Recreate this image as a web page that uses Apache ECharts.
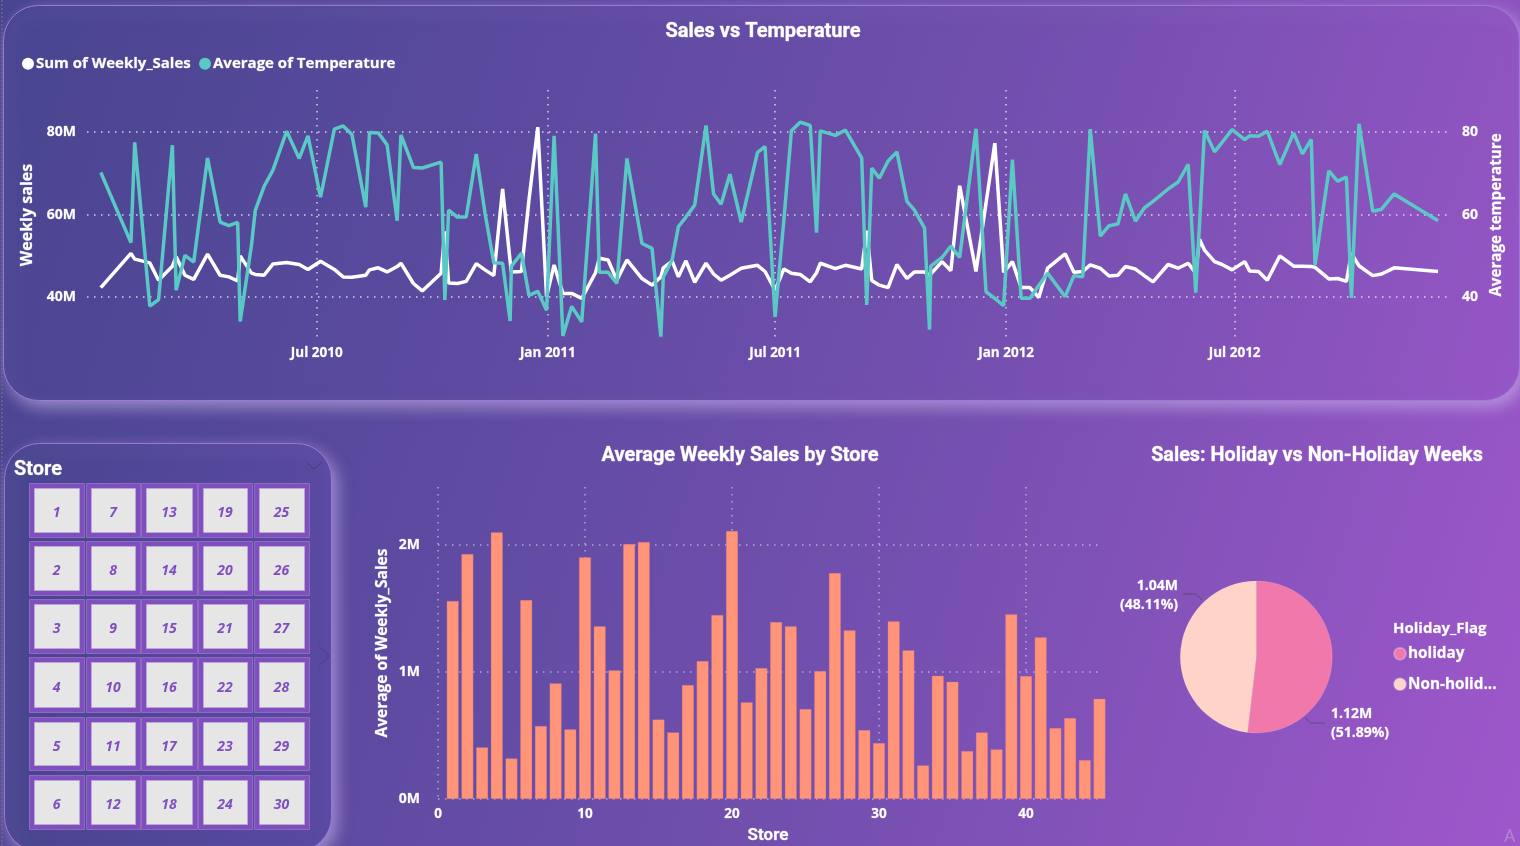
<!DOCTYPE html>
<html><head><meta charset="utf-8">
<style>html,body{margin:0;padding:0;width:1520px;height:846px;overflow:hidden;background:linear-gradient(108deg,#484590 0%,#5b4a9f 30%,#7550b0 62%,#9f57cb 100%)}#c{width:1520px;height:846px}</style>
<script src="https://cdn.jsdelivr.net/npm/echarts@6/dist/echarts.min.js"></script>
</head><body><div id="c"></div>
<script>
// Days since 2010-01-01 of each plotted week
const dayOffsets=[9,33,36,48,55,66,69,76,83,94,104,111,118,120,129,132,139,146,157,167,174,184,195,202,209,220,223,230,237,245,248,258,265,280,283,286,293,300,308,315,322,329,335,336,344,350,357,364,370,377,384,392,403,406,413,420,428,440,448,455,457,464,469,475,482,491,497,503,510,519,532,538,546,553,559,566,574,579,582,594,602,615,619,623,629,636,643,651,657,665,669,670,679,686,693,706,714,721,728,735,742,749,756,763,777,784,791,797,805,812,819,825,833,840,847,859,867,875,881,884,888,896,902,910,920,924,931,938,948,959,966,973,976,987,994,1001,1005,1011,1022,1029,1039,1074];
const weeklySales=[42.3,50.6,49.2,48.3,44.1,47.5,49.8,45.3,44.3,50.4,45.3,44.9,43.9,50,45.8,45.5,45.3,48,48.4,47.9,46.7,48.7,46.7,44.9,44.8,45.3,46.6,47.1,46.1,47.4,48.2,43.3,41.5,45.8,55.9,43.4,43.3,43.8,48.1,46.6,45.2,66.2,48.6,46.1,46.2,63.6,81.2,40.1,47.8,40.9,40.9,39.7,45.9,49.4,49,44.1,49,44.5,42.9,44.9,47.1,48.7,44.9,48.8,43.6,48.2,45.6,44.1,45.3,47,47.7,46.2,41.7,46.8,45.8,45.5,43.7,45.9,48.2,46.9,47.7,46.8,56.1,44,42.9,42.3,47.9,44.5,46.1,46.1,45.3,44.9,48.6,46.4,67,46.2,62.8,77.3,46,48.6,42.3,42.3,39.9,47,50.5,46,46.2,47.8,47,45.1,45.3,47.4,46.8,45.2,43.7,47.9,47,48.2,45.8,54,51.4,48.6,47.9,46.6,48.6,46.3,46.2,44.1,50,47.5,47.5,47.4,47.2,44.4,44.5,43.8,50.6,47.6,45.2,45.6,47.1,46.2];
const avgTemperature=[70.2,53.2,77.5,37.8,39.4,76.8,41.7,50.1,48.5,73.7,58.2,57.3,58.1,34.1,52.6,61,66.8,70.7,80.2,73.6,79.1,64.2,80.7,81.5,79.4,61.8,79.9,79.8,76.9,58.5,79.3,71.4,71.3,72.7,39.3,61.1,59.4,59.4,74.7,60.3,48.3,48.2,34.2,47.5,50.6,40.4,41.4,36.8,79.1,30.6,37.7,34,79.6,46,46,43.3,73.6,53,51.8,30.4,44.9,49,57.1,59.4,62.3,81.6,65,62.5,69.8,58.2,75.1,76.5,35.2,58.7,80.3,82.4,81.6,55.6,80.3,79.2,80.5,73.7,38.1,71.3,68.8,73,75.2,63.2,61.1,56.7,32.1,47.5,49.6,52.4,49.6,80.8,41.3,39.7,37.9,73.3,39.7,39.7,42.8,45.8,40.1,45.2,44.9,80.7,54.8,57.3,57.7,65,58.4,61.6,63.2,66.2,67.9,72.2,41.1,57.5,80.4,75.2,77.5,80.6,78.2,79.1,79,80.2,72.1,79.8,74.7,78.2,47.8,70.6,68.1,69.1,39.8,82,60.8,61.3,65,58.5];
const timeTicks=[181,365,546,730,912];
const timeTickLabels=['Jul 2010','Jan 2011','Jul 2011','Jan 2012','Jul 2012'];
const salesTicks=[40,60,80];
const tempTicks=[40,60,80];

const stores=[1,2,3,4,5,6,7,8,9,10,11,12,13,14,15,16,17,18,19,20,21,22,23,24,25,26,27,28,29,30,31,32,33,34,35,36,37,38,39,40,41,42,43,44,45];
const storeSales=[1.56,1.93,0.407,2.10,0.32,1.567,0.575,0.911,0.549,1.903,1.36,1.013,2.008,2.024,0.627,0.525,0.898,1.087,1.449,2.11,0.761,1.031,1.394,1.36,0.709,1.008,1.78,1.328,0.543,0.441,1.399,1.171,0.265,0.971,0.924,0.378,0.525,0.391,1.454,0.968,1.273,0.559,0.638,0.307,0.79];
const storeTicks=[0,10,20,30,40];
const storeSalesTicks=[0,1,2];

const pieNames=['holiday','Non-holiday'];
const pieValues=[1.12,1.04];
const piePercents=['51.89%','48.11%'];
const sliceColors=['#F178AB','#FFD3C8'];

const sliceStores=[1,7,13,19,25,2,8,14,20,26,3,9,15,21,27,4,10,16,22,28,5,11,17,23,29,6,12,18,24,30];

const F='"Open Sans","Noto Sans",sans-serif';
const T='Roboto,"Noto Sans",sans-serif';
const W='#fff';
const bold={textBorderColor:'rgba(255,255,255,0.45)',textBorderWidth:0.5};
const dot=(o)=>({show:true,lineStyle:{color:'rgba(255,255,255,'+o+')',width:1.5,type:[1.5,5.5]}});
const pageFill=()=>new echarts.graphic.LinearGradient(-51.7,159.2,1571.7,686.8,[{offset:0,color:'#484590'},{offset:.3,color:'#5b4a9f'},{offset:.62,color:'#7550b0'},{offset:1,color:'#9f57cb'}],true);
const glow={shadowColor:'rgba(205,185,235,0.6)',shadowBlur:16,shadowOffsetX:5,shadowOffsetY:6};

// slicer tiles
const tileX=[29,86,141,198,254],tileW=[55,54,56,54,55];
const tileY=[483,541,599,657,717,775],tileH=[54,54,54,55,53,54];
const gfx=[];
gfx.push({type:'rect',z:0,shape:{x:3.5,y:5.5,width:1516,height:395,r:35},style:Object.assign({fill:pageFill(),stroke:'#9E78D8',lineWidth:1},glow)});
gfx.push({type:'rect',z:0,shape:{x:4.5,y:443.5,width:327,height:408,r:35},style:Object.assign({fill:new echarts.graphic.LinearGradient(0,0,1,0,[{offset:0,color:'#49458f'},{offset:1,color:'#5a49a2'}]),stroke:'#9E72DC',lineWidth:1},glow)});
gfx.push({type:'line',z:1,shape:{x1:2,y1:0,x2:2,y2:846},style:{stroke:'rgba(110,110,125,0.9)',lineWidth:1.5,lineDash:[2,2]}});
gfx.push({type:'text',z:5,style:{x:14,y:470,text:'Store',fill:W,font:'bold 20px '+T,textVerticalAlign:'middle',stroke:'rgba(255,255,255,0.45)',lineWidth:0.5}});
gfx.push({type:'polyline',z:5,shape:{points:[[306,462],[314,469],[322,462]]},style:{stroke:'rgba(60,60,90,0.7)',fill:null,lineWidth:1}});
gfx.push({type:'polyline',z:5,shape:{points:[[319.5,647],[329,656],[319.5,665]]},style:{stroke:'rgba(60,60,90,0.7)',fill:null,lineWidth:1}});
sliceStores.forEach((s,i)=>{
  const c=i%5,r=Math.floor(i/5),x=tileX[c],y=tileY[r],w=tileW[c],h=tileH[r];
  gfx.push({type:'rect',z:5,shape:{x:x+.5,y:y+.5,width:w,height:h},style:{fill:'#804FBF',stroke:'#8E6BC0',lineWidth:1}});
  gfx.push({type:'rect',z:6,shape:{x:x+5.5,y:y+5.5,width:w-10,height:h-10},style:{fill:'#E6E6E6',stroke:'#B9A8D0',lineWidth:1}});
  gfx.push({type:'text',z:7,style:{x:x+w/2,y:y+h/2+3.5,text:String(s),fill:'#804FBF',font:'italic bold 14px '+F,textAlign:'center',textVerticalAlign:'middle'}});
});
gfx.push({type:'text',z:5,style:{x:1504,y:837,text:'A',fill:'rgba(200,190,215,0.45)',font:'18px '+F,textVerticalAlign:'middle'}});
gfx.push({type:'text',z:5,style:{x:1393,y:629,text:'Holiday_Flag',fill:W,font:'bold 15px '+F,textVerticalAlign:'middle',stroke:'rgba(255,255,255,0.45)',lineWidth:0.5}});

const titleStyle=Object.assign({color:W,fontFamily:T,fontWeight:'bold',fontSize:20},{textBorderColor:'rgba(255,255,255,0.6)',textBorderWidth:0.6});
const option={
  animation:false,
  graphic:{elements:gfx},
  title:[
    {text:'Sales vs Temperature',left:758,top:17,textAlign:'center',textStyle:titleStyle},
    {text:'Average Weekly Sales by Store',left:735,top:441,textAlign:'center',textStyle:titleStyle},
    {text:'Sales: Holiday vs Non-Holiday Weeks',left:1312,top:441,textAlign:'center',textStyle:Object.assign({},titleStyle,{fontSize:19.8})}
  ],
  legend:[
    {left:17,top:51,padding:5,itemGap:8,itemWidth:12,itemHeight:12,icon:'circle',selectedMode:false,
     data:['Sum of Weekly_Sales','Average of Temperature'],textStyle:Object.assign({color:W,fontFamily:F,fontWeight:'bold',fontSize:15,padding:[0,0,0,-3]},bold)},
    {left:1388,top:641,orient:'vertical',itemGap:15,itemWidth:12,itemHeight:12,icon:'circle',selectedMode:false,
     data:pieNames,formatter:n=>n.length>9?n.slice(0,9)+'...':n,textStyle:Object.assign({color:W,fontFamily:F,fontWeight:'bold',fontSize:15.3,padding:[0,0,0,-3]},bold)}
  ],
  grid:[
    {left:87,width:1364,top:90,height:250},
    {left:438,width:664,top:487,height:312}
  ],
  xAxis:[
    {type:'value',gridIndex:0,min:-2,max:1084.3,
     axisLine:{show:false},axisTick:{show:false,customValues:timeTicks},
     splitLine:dot(0.75),
     axisLabel:Object.assign({customValues:timeTicks,color:W,fontFamily:F,fontWeight:'bold',fontSize:13.5,margin:6,
       formatter:v=>timeTickLabels[timeTicks.indexOf(+v)]||''},bold)},
    {type:'value',gridIndex:1,min:0,max:45.17,
     name:'Store',nameLocation:'middle',nameGap:28,nameTextStyle:Object.assign({color:W,fontFamily:T,fontWeight:'bold',fontSize:17,padding:[0,4,0,0]},bold),
     axisLine:{show:false},axisTick:{show:false,customValues:storeTicks},
     splitLine:dot(0.5),
     axisLabel:Object.assign({customValues:storeTicks,color:W,fontFamily:F,fontWeight:'bold',fontSize:13.5,margin:8},bold)}
  ],
  yAxis:[
    {type:'value',gridIndex:0,min:29.6,max:90.2,name:'Weekly sales',nameLocation:'middle',nameRotate:90,nameGap:45,
     nameTextStyle:Object.assign({color:W,fontFamily:F,fontWeight:'bold',fontSize:16},bold),
     axisLine:{show:false},axisTick:{show:false,customValues:salesTicks},splitLine:dot(0.75),
     axisLabel:Object.assign({customValues:salesTicks,formatter:v=>v+'M',color:W,fontFamily:F,fontWeight:'bold',fontSize:14,margin:11,padding:[3,0,0,0]},bold)},
    {type:'value',gridIndex:0,position:'right',min:29.6,max:90.2,name:'Average temperature',nameLocation:'middle',nameRotate:90,nameGap:37,
     nameTextStyle:Object.assign({color:W,fontFamily:F,fontWeight:'bold',fontSize:15.2},bold),
     axisLine:{show:false},axisTick:{show:false,customValues:tempTicks},splitLine:{show:false},
     axisLabel:Object.assign({customValues:tempTicks,color:W,fontFamily:F,fontWeight:'bold',fontSize:14,margin:11,padding:[3,0,0,0]},bold)},
    {type:'value',gridIndex:1,min:0,max:2.457,name:'Average of Weekly_Sales',nameLocation:'middle',nameRotate:90,nameGap:47,
     nameTextStyle:Object.assign({color:W,fontFamily:F,fontWeight:'bold',fontSize:15.5},bold),
     axisLine:{show:false},axisTick:{show:false,customValues:storeSalesTicks},splitLine:dot(0.5),
     axisLabel:Object.assign({customValues:storeSalesTicks,formatter:v=>v+'M',color:W,fontFamily:F,fontWeight:'bold',fontSize:14,margin:18,padding:[3,0,0,0]},bold)}
  ],
  series:[
    {name:'Sum of Weekly_Sales',type:'line',xAxisIndex:0,yAxisIndex:0,showSymbol:false,itemStyle:{color:'#fff'},
     lineStyle:{color:'#fff',width:3.5,join:'bevel'},data:dayOffsets.map((d,i)=>[d,weeklySales[i]])},
    {name:'Average of Temperature',type:'line',xAxisIndex:0,yAxisIndex:1,showSymbol:false,itemStyle:{color:'#5AC8C4'},
     lineStyle:{color:'#5AC8C4',width:3.5,join:'bevel'},data:dayOffsets.map((d,i)=>[d,avgTemperature[i]])},
    {type:'bar',xAxisIndex:1,yAxisIndex:2,barWidth:12,clip:false,
     itemStyle:{color:'#FF9479',borderColor:'rgba(190,110,140,0.6)',borderWidth:0.5},
     data:stores.map((s,i)=>[s,storeSales[i]])},
    {type:'pie',center:[1256.3,657],radius:[0,76],startAngle:90,clockwise:true,
     itemStyle:{borderColor:'rgba(255,255,255,0.25)',borderWidth:0.5},
     data:pieNames.map((n,i)=>({name:n,value:pieValues[i],itemStyle:{color:sliceColors[i]}})),
     label:Object.assign({color:W,fontFamily:F,fontWeight:'bold',fontSize:14,lineHeight:19,
       formatter:p=>p.value.toFixed(2)+'M\n('+piePercents[p.dataIndex]+')'},bold),
     labelLine:{show:true,length:8,length2:14,lineStyle:{color:'rgba(70,60,90,0.6)',width:1}},
     labelLayout:p=>p.dataIndex===0
       ?{x:1331,y:724,align:'left',verticalAlign:'middle',labelLinePoints:[[1305,717],[1310,723],[1325,723]]}
       :{x:1178,y:596,align:'right',verticalAlign:'middle',labelLinePoints:[[1202,600],[1196,594],[1183,594]]}
    }
  ]
};
echarts.init(document.getElementById('c'),null,{renderer:'canvas'}).setOption(option);
</script></body></html>
